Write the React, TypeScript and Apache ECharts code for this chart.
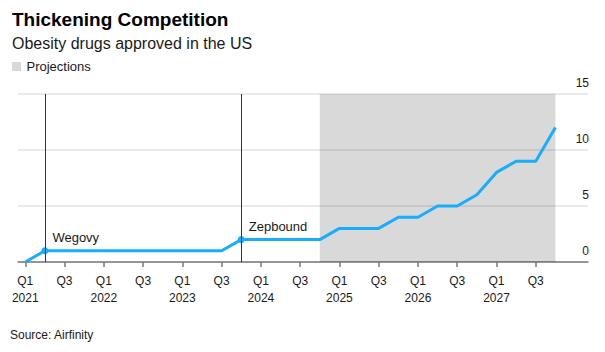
import React, { useEffect, useRef } from "react";
import * as echarts from "echarts";

const quarters = [
  "Q1 2021", "Q2 2021", "Q3 2021", "Q4 2021",
  "Q1 2022", "Q2 2022", "Q3 2022", "Q4 2022",
  "Q1 2023", "Q2 2023", "Q3 2023", "Q4 2023",
  "Q1 2024", "Q2 2024", "Q3 2024", "Q4 2024",
  "Q1 2025", "Q2 2025", "Q3 2025", "Q4 2025",
  "Q1 2026", "Q2 2026", "Q3 2026", "Q4 2026",
  "Q1 2027", "Q2 2027", "Q3 2027", "Q4 2027",
];
const approved = [
  0, 1, 1, 1,
  1, 1, 1, 1,
  1, 1, 1, 2,
  2, 2, 2, 2,
  3, 3, 3, 4,
  4, 5, 5, 6,
  8, 9, 9, 12,
];
const approvals = [
  { quarter: "Q2 2021", name: "Wegovy" },
  { quarter: "Q4 2023", name: "Zepbound" },
];
const projectionStart = "Q4 2024";
const projectionEnd = "Q4 2027";
const tickQuarters = [
  "Q1 2021", "Q3 2021", "Q1 2022", "Q3 2022", "Q1 2023", "Q3 2023", "Q1 2024",
  "Q3 2024", "Q1 2025", "Q3 2025", "Q1 2026", "Q3 2026", "Q1 2027", "Q3 2027",
];
const yTicks = [0, 5, 10, 15];

const FONT = "'Liberation Sans', Arial, sans-serif";
const BLUE = "#19adfe";
const TEXT = "#1a1a1a";

export default function App() {
  const ref = useRef<HTMLDivElement>(null);
  useEffect(() => {
    document.body.style.margin = "0";
    if (!ref.current) return;
    const chart = echarts.init(ref.current, null, { renderer: "svg" });
    const idx = (q: string) => quarters.indexOf(q);
    const data = approved.map((v, i) => {
      const ann = approvals.find((a) => idx(a.quarter) === i);
      if (!ann) return { value: [i, v] };
      return {
        value: [i, v],
        name: ann.name,
        symbol: "circle",
        symbolSize: 7,
        label: {
          show: true,
          formatter: ann.name,
          position: "right",
          distance: 4,
          offset: [0, -13],
          fontFamily: FONT,
          fontSize: 13,
          color: TEXT,
        },
      };
    });
    chart.setOption({
      animation: false,
      grid: { left: 18, right: 17, top: 94, bottom: 90 },
      xAxis: {
        type: "value",
        min: -0.37,
        max: 28.66,
        splitLine: { show: false },
        axisLine: { show: true, lineStyle: { color: "#7a7a7a", width: 1.5 } },
        axisTick: {
          show: true,
          length: 5,
          customValues: tickQuarters.map(idx),
          lineStyle: { color: "#7a7a7a", width: 1.5 },
        },
        axisLabel: {
          customValues: tickQuarters.map(idx),
          formatter: (v: number) => {
            const q = quarters[Math.round(v)] || "";
            const [qq, yr] = q.split(" ");
            return qq === "Q1" ? qq + "\n" + yr : qq;
          },
          fontFamily: FONT,
          fontSize: 12,
          lineHeight: 17,
          color: TEXT,
          margin: 10,
          verticalAlign: "top",
        },
      },
      yAxis: {
        type: "value",
        position: "right",
        min: 0,
        max: 15,
        interval: 5,
        axisLine: { show: false },
        axisTick: { show: false },
        splitLine: { show: true, lineStyle: { color: "#e3e3e3", width: 1.5 } },
        axisLabel: {
          customValues: yTicks,
          align: "right",
          margin: 1,
          verticalAlign: "bottom",
          padding: [0, 0, 5, 0],
          fontFamily: FONT,
          fontSize: 12,
          color: TEXT,
        },
      },
      graphic: [
        {
          type: "text",
          x: 12,
          y: 19,
          style: {
            text: "Thickening Competition",
            font: `bold 19px ${FONT}`,
            fill: "#000",
            verticalAlign: "middle",
          },
        },
        {
          type: "text",
          x: 12,
          y: 43,
          style: {
            text: "Obesity drugs approved in the US",
            font: `16px ${FONT}`,
            fill: TEXT,
            verticalAlign: "middle",
          },
        },
        {
          type: "rect",
          shape: { x: 12, y: 62, width: 9, height: 9 },
          style: { fill: "#d9d9d9" },
        },
        {
          type: "text",
          x: 26.5,
          y: 66.5,
          style: {
            text: "Projections",
            font: `13px ${FONT}`,
            fill: TEXT,
            verticalAlign: "middle",
          },
        },
        {
          type: "text",
          x: 10,
          y: 335,
          style: {
            text: "Source: Airfinity",
            font: `12px ${FONT}`,
            fill: TEXT,
            verticalAlign: "middle",
          },
        },
      ],
      series: [
        {
          type: "line",
          data,
          symbol: "none",
          showSymbol: true,
          lineStyle: { color: BLUE, width: 3 },
          itemStyle: { color: BLUE },
          markArea: {
            silent: true,
            itemStyle: { color: "rgba(0,0,0,0.15)" },
            data: [[{ xAxis: idx(projectionStart) }, { xAxis: idx(projectionEnd) }]],
          },
          markLine: {
            silent: true,
            symbol: "none",
            label: { show: false },
            lineStyle: { color: "#333", width: 1, type: "solid" },
            data: approvals.map((a) => ({ xAxis: idx(a.quarter) })),
          },
          z: 3,
        },
      ],
    });
    return () => chart.dispose();
  }, []);
  return <div ref={ref} style={{ width: 605, height: 352 }} />;
}
